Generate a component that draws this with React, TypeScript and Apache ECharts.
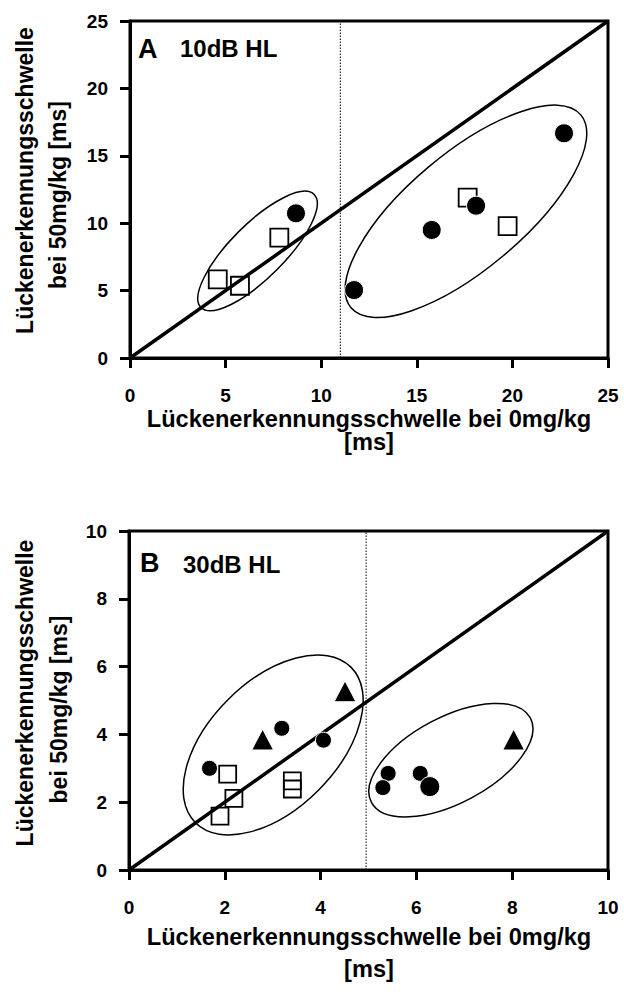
import React, { useEffect, useRef } from "react";
import * as echarts from "echarts";

// ---- Data ----
// Panel A: 10dB HL
const aCircles = [[8.68, 10.73], [11.72, 5.04], [15.78, 9.5], [18.1, 11.3], [22.7, 16.67]];
const aSquares = [[7.81, 8.93], [4.59, 5.84], [5.75, 5.36], [17.66, 11.89], [19.75, 9.79]];
const aDivider = 11;
const aEllipseCenters = [[6.67, 7.94], [17.57, 10.88]];
const aTicks = { min: 0, max: 25, interval: 5 };

// Panel B: 30dB HL
const bCircles = [[1.68, 3.0], [3.19, 4.18], [4.06, 3.83], [5.41, 2.85], [5.3, 2.43], [6.08, 2.85]];
const bBigCircles = [[6.28, 2.46]];
const bSquares = [[2.06, 2.83], [2.19, 2.11], [1.9, 1.59], [3.41, 2.63], [3.41, 2.39]];
const bTriangles = [[2.79, 3.85], [4.51, 5.27], [8.03, 3.85]];
const bDivider = 4.95;
const bEllipseCenters = [[3.01, 3.69], [6.72, 3.24]];
const bTicks = { min: 0, max: 10, interval: 2 };

const xTitle = ["Lückenerkennungsschwelle bei 0mg/kg", "[ms]"];
const yTitle = ["Lückenerkennungsschwelle", "bei 50mg/kg [ms]"];
const panelLabels = [["A", "10dB HL"], ["B", "30dB HL"]];

// ---- Ellipse shapes (pixel geometry: rx, ry, rotation degrees) ----
const aEllipseShape = [[80, 27, 45], [150, 58, 40]];
const bEllipseShape = [[110, 64, 45], [90, 43, 28]];

const FONT = "'Liberation Sans', Arial, Helvetica, sans-serif";

function ellipseSeries(idx: number, centers: number[][], shapes: number[][]) {
  return {
    type: "custom",
    xAxisIndex: idx,
    yAxisIndex: idx,
    silent: true,
    z: 1,
    data: centers.map((c, i) => [c[0], c[1], i]),
    renderItem: (params: any, api: any) => {
      const c = api.coord([api.value(0), api.value(1)]);
      const s = shapes[api.value(2)];
      return {
        type: "ellipse",
        x: c[0],
        y: c[1],
        rotation: (s[2] * Math.PI) / 180,
        shape: { cx: 0, cy: 0, rx: s[0], ry: s[1] },
        style: { fill: "none", stroke: "#000", lineWidth: 1.5 },
      };
    },
  };
}

function axes(idx: number, t: { min: number; max: number; interval: number }) {
  const common = {
    gridIndex: idx,
    type: "value",
    min: t.min,
    max: t.max,
    interval: t.interval,
    splitLine: { show: false },
    axisLine: { show: true, onZero: false, lineStyle: { color: "#000", width: 3 } },
    axisTick: { show: true, inside: false, length: 10, lineStyle: { color: "#000", width: 3 } },
  };
  return {
    x: {
      ...common,
      position: "bottom",
      axisLabel: { margin: 28, color: "#000", fontSize: 19, fontWeight: "bold", fontFamily: FONT },
    },
    y: {
      ...common,
      position: "left",
      axisLabel: { margin: 22, color: "#000", fontSize: 19, fontWeight: "bold", fontFamily: FONT },
    },
  };
}

function panelSeries(idx: number, max: number, divider: number) {
  return [
    {
      type: "line",
      xAxisIndex: idx,
      yAxisIndex: idx,
      data: [[0, 0], [max, max]],
      symbol: "none",
      silent: true,
      z: 2,
      lineStyle: { color: "#000", width: 3.5 },
    },
    {
      type: "line",
      xAxisIndex: idx,
      yAxisIndex: idx,
      data: [[divider, 0], [divider, max]],
      symbol: "none",
      silent: true,
      z: 2,
      lineStyle: { color: "#000", width: 1, type: [1.5, 1.5] },
    },
  ];
}

function scatter(idx: number, data: number[][], symbol: string, size: any, filled: boolean, z = 4) {
  return {
    type: "scatter",
    xAxisIndex: idx,
    yAxisIndex: idx,
    data,
    symbol,
    symbolSize: size,
    z,
    itemStyle: filled
      ? { color: "#000", borderColor: "#fff", borderWidth: 1, opacity: 1 }
      : { color: "rgba(0,0,0,0)", borderColor: "#000", borderWidth: 1.8, opacity: 1 },
  };
}

function txt(x: number, y: number, text: string, size: number, opts: any = {}) {
  return {
    type: "text",
    x,
    y,
    rotation: opts.rotation || 0,
    silent: true,
    z: 10,
    style: {
      text,
      fill: "#000",
      font: `bold ${size}px ${FONT}`,
      align: opts.align || "center",
      verticalAlign: "middle",
    },
  };
}

export default function App() {
  const ref = useRef<HTMLDivElement>(null);
  useEffect(() => {
    document.body.style.margin = "0";
    if (!ref.current) return;
    const chart = echarts.init(ref.current, null, { renderer: "svg" });
    const A = axes(0, aTicks);
    const B = axes(1, bTicks);
    const gridStyle = { show: true, borderColor: "#000", borderWidth: 3, backgroundColor: "transparent" };
    chart.setOption({
      animation: false,
      backgroundColor: "#fff",
      grid: [
        { left: 130, top: 21, width: 478, height: 337, ...gridStyle },
        { left: 129, top: 531, width: 479, height: 339, ...gridStyle },
      ],
      xAxis: [A.x, B.x],
      yAxis: [A.y, B.y],
      series: [
        ellipseSeries(0, aEllipseCenters, aEllipseShape),
        ...panelSeries(0, aTicks.max, aDivider),
        scatter(0, aSquares, "rect", 18, false, 3),
        scatter(0, aCircles, "circle", 19, true),
        ellipseSeries(1, bEllipseCenters, bEllipseShape),
        ...panelSeries(1, bTicks.max, bDivider),
        scatter(1, bSquares, "rect", 17, false, 3),
        scatter(1, bCircles, "circle", 16, true),
        scatter(1, bBigCircles, "circle", 20, true, 5),
        scatter(1, bTriangles, "triangle", [22, 21], true),
      ],
      graphic: [
        txt(138, 48.5, panelLabels[0][0], 27, { align: "left" }),
        txt(180, 48.5, panelLabels[0][1], 24, { align: "left" }),
        txt(140, 562.5, panelLabels[1][0], 27, { align: "left" }),
        txt(183, 564, panelLabels[1][1], 24, { align: "left" }),
        txt(369, 418.5, xTitle[0], 23.6),
        txt(369, 442, xTitle[1], 23.6),
        txt(369, 936.5, xTitle[0], 23.6),
        txt(369, 969, xTitle[1], 23.6),
        txt(25, 180.5, yTitle[0], 23, { rotation: Math.PI / 2 }),
        txt(58, 195, yTitle[1], 23, { rotation: Math.PI / 2 }),
        txt(25, 693, yTitle[0], 23, { rotation: Math.PI / 2 }),
        txt(59, 709.5, yTitle[1], 23, { rotation: Math.PI / 2 }),
      ],
    });
    return () => chart.dispose();
  }, []);
  return <div ref={ref} style={{ width: 624, height: 992 }} />;
}
